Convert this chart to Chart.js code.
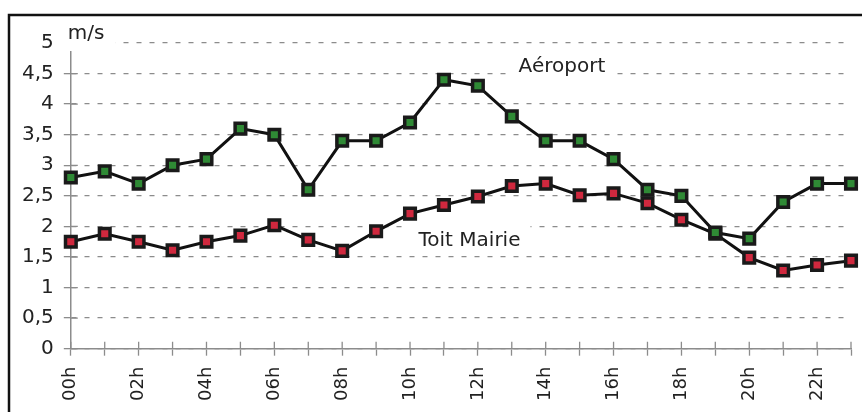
<!DOCTYPE html>
<html>
<head>
<meta charset="utf-8">
<script src="https://cdn.jsdelivr.net/npm/chart.js@4"></script>
<style>
  body { margin: 0; background: #fff; overflow: hidden; }
  canvas { display: block; }
</style>
</head>
<body>
<canvas id="myChart" width="862" height="412"></canvas>
<script>
// hours of the day (one point per hour)
var hours = ['00h','01h','02h','03h','04h','05h','06h','07h','08h','09h','10h','11h',
             '12h','13h','14h','15h','16h','17h','18h','19h','20h','21h','22h','23h'];
// only every other hour gets a label under the axis
var tickLabels = ['00h','','02h','','04h','','06h','','08h','','10h','',
                  '12h','','14h','','16h','','18h','','20h','','22h',''];
var yTickLabels = ['0','0,5','1','1,5','2','2,5','3','3,5','4','4,5','5'];

var seriesNames = ['Aéroport', 'Toit Mairie'];
var aeroport = [2.8, 2.9, 2.7, 3.0, 3.1, 3.6, 3.5, 2.6, 3.4, 3.4, 3.7, 4.4,
                4.3, 3.8, 3.4, 3.4, 3.1, 2.6, 2.5, 1.9, 1.8, 2.4, 2.7, 2.7];
var toitMairie = [1.75, 1.88, 1.75, 1.61, 1.75, 1.85, 2.02, 1.78, 1.6, 1.92, 2.21, 2.35,
                  2.49, 2.66, 2.7, 2.51, 2.54, 2.38, 2.11, 1.88, 1.49, 1.28, 1.37, 1.44];
var unitLabel = 'm/s';

var FONT = '"DejaVu Sans", sans-serif';
var GRID = '#8c8c8c';

// texts written in the plot: [text, x index, y value, font px]
var notes = [
  [seriesNames[0], 13.2, 4.52, 20],
  [seriesNames[1], 10.25, 1.68, 20]
];

var decor = {
  id: 'decor',
  beforeDatasetsDraw: function (chart) {
    var ctx = chart.ctx, xs = chart.scales.x, ys = chart.scales.y, ca = chart.chartArea;
    ctx.save();
    // inner halves of the tick marks
    ctx.strokeStyle = GRID; ctx.lineWidth = 1.3;
    ctx.beginPath();
    for (var i = 0; i < hours.length; i++) {
      var px = xs.getPixelForValue(i);
      ctx.moveTo(px, ca.bottom); ctx.lineTo(px, ca.bottom - 7);
    }
    for (var j = 0; j < yTickLabels.length; j++) {
      var py = ys.getPixelForValue(j * 0.5);
      ctx.moveTo(ca.left, py); ctx.lineTo(ca.left + 7, py);
    }
    ctx.stroke();

    // unit label top-left, with a blank behind it
    var ux = xs.getPixelForValue(0) - 3, uy = ys.getPixelForValue(5) - 4;
    ctx.fillStyle = '#fff';
    ctx.fillRect(ux - 8, uy - 22, 56, 34);
    ctx.font = '20px ' + FONT;
    ctx.fillStyle = '#222';
    ctx.textAlign = 'left'; ctx.textBaseline = 'alphabetic';
    ctx.fillText(unitLabel, ux, uy);

    notes.forEach(function (n) {
      ctx.font = n[3] + 'px ' + FONT;
      var tx = xs.getPixelForValue(n[1]), ty = ys.getPixelForValue(n[2]);
      var w = ctx.measureText(n[0]).width;
      ctx.fillStyle = '#fff';
      ctx.fillRect(tx - 10, ty - 24, w + 20, 28);
      ctx.fillStyle = '#222';
      ctx.fillText(n[0], tx, ty);
    });
    ctx.restore();
  },
  afterDraw: function (chart) {
    var ctx = chart.ctx;
    ctx.save();
    ctx.strokeStyle = '#111'; ctx.lineWidth = 2.5;
    ctx.beginPath();
    ctx.moveTo(9, 412); ctx.lineTo(9, 15); ctx.lineTo(862, 15);
    ctx.stroke();
    ctx.restore();
  }
};

var ctx = document.getElementById('myChart').getContext('2d');
var myChart = new Chart(ctx, {
  type: 'line',
  data: {
    labels: hours,
    datasets: [
      {
        label: seriesNames[0],
        data: aeroport,
        borderColor: '#111', borderWidth: 3,
        pointStyle: 'rect', pointRadius: 7.5, pointBorderWidth: 3.5,
        pointBorderColor: '#1a1a1a', pointBackgroundColor: '#2f8a35',
        tension: 0
      },
      {
        label: seriesNames[1],
        data: toitMairie,
        borderColor: '#111', borderWidth: 3,
        pointStyle: 'rect', pointRadius: 7.5, pointBorderWidth: 3.5,
        pointBorderColor: '#1a1a1a', pointBackgroundColor: '#d0283e',
        tension: 0
      }
    ]
  },
  options: {
    responsive: false,
    animation: false,
    layout: { padding: { left: 12, top: 43, right: 0, bottom: 0 } },
    plugins: { legend: { display: false }, tooltip: { enabled: false } },
    scales: {
      x: {
        offset: false,
        // the last label is blank, so don't keep room for it on the right
        afterFit: function (scale) { scale.paddingRight = 10; },
        grid: { drawOnChartArea: false, tickLength: 7, tickColor: GRID, tickWidth: 1.3 },
        border: { color: GRID, width: 1.5 },
        ticks: {
          autoSkip: false, maxRotation: 90, minRotation: 90, padding: 11,
          color: '#222', font: { family: FONT, size: 18 },
          callback: function (v, i) { return tickLabels[i]; }
        }
      },
      y: {
        min: 0, max: 5,
        grid: { color: GRID, lineWidth: 1.3, tickLength: 7, tickColor: GRID, tickWidth: 1.3 },
        border: { color: GRID, width: 1.5, dash: [5, 8] },
        ticks: {
          stepSize: 0.5, padding: 10,
          color: '#222', font: { family: FONT, size: 20 },
          callback: function (v, i) { return yTickLabels[i]; }
        }
      }
    }
  },
  plugins: [decor]
});
</script>
</body>
</html>
